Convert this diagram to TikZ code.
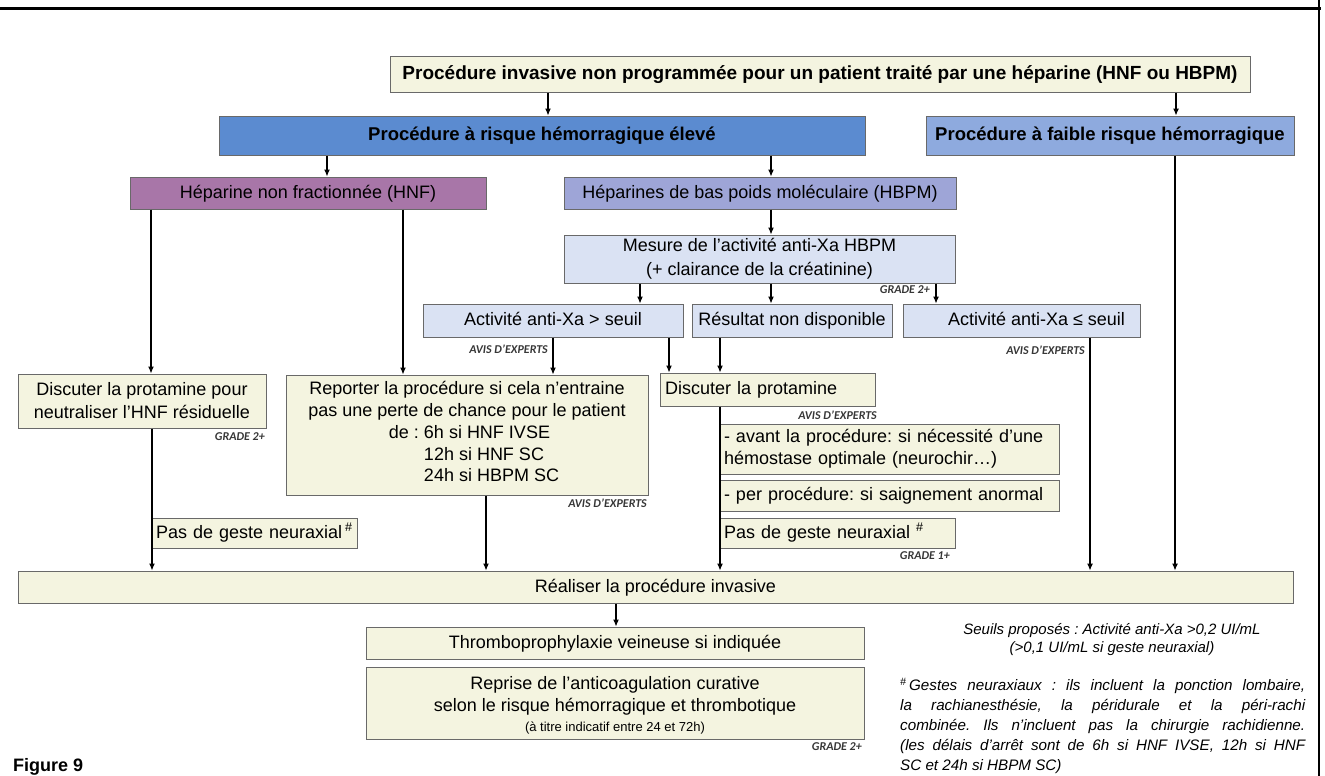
\documentclass[tikz,border=0pt]{standalone}
\usepackage{fontspec}
\setmainfont{Liberation Sans}
\newfontfamily\notefont{Carlito}
\usetikzlibrary{arrows.meta}
\definecolor{beige}{RGB}{244,244,224}
\definecolor{bgray}{RGB}{105,105,105}
\definecolor{blueB}{RGB}{91,139,208}
\definecolor{blueC}{RGB}{142,170,222}
\definecolor{hnfc}{RGB}{168,118,168}
\definecolor{hbpmc}{RGB}{158,165,215}
\definecolor{lblue}{RGB}{218,226,243}
\definecolor{labc}{RGB}{55,55,55}
\frenchspacing
\begin{document}
\begin{tikzpicture}[x=1pt,y=-1pt,
  box/.style={draw=bgray, line width=1pt, inner sep=0pt, align=center,
    font=\fontsize{18}{21.5}\selectfont},
  one/.style={text height=14pt, text depth=3.5pt},
  title/.style={box, one, font=\bfseries\fontsize{18.5}{20}\selectfont},
  lbox/.style={box, align=left, inner xsep=5pt},
  arr/.style={-{Latex[length=7pt,width=6pt]}, line width=1.1pt},
  lab/.style={font=\notefont\bfseries\itshape\fontsize{12}{13}\selectfont, text=labc, inner sep=0pt, anchor=east},
]
\useasboundingbox (0,0) rectangle (1325,776);
% frame
\draw[line width=3pt] (0,9) -- (1321,9);
\draw[line width=2.5pt] (1319,0) -- (1319,776);

% nodes
\node[title, fill=beige, minimum width=860, minimum height=35, font=\bfseries\fontsize{19}{20}\selectfont] (A) at (820,74.5)
  {Procédure invasive non programmée pour un patient traité par une héparine (HNF ou HBPM)};
\node[title, fill=blueB, minimum width=646, minimum height=39] (B) at (542,135.5)
  {Procédure à risque hémorragique élevé};
\node[title, fill=blueC, minimum width=368, minimum height=39] (C) at (1110,135.5)
  {Procédure à faible risque hémorragique};
\node[box, one, fill=hnfc, minimum width=356, minimum height=32] (HNF) at (308,193)
  {Héparine non fractionnée (HNF)};
\node[box, one, fill=hbpmc, minimum width=392, minimum height=32] (HBPM) at (760,193)
  {Héparines de bas poids moléculaire (HBPM)};
\node[box, fill=lblue, minimum width=391, minimum height=48, font=\fontsize{18}{24}\selectfont] (Mes) at (759.5,259)
  {Mesure de l’activité anti-Xa HBPM\\(+ clairance de la créatinine)};
\node[box, one, fill=lblue, minimum width=260, minimum height=33] (Sup) at (553,320.5)
  {Activité anti-Xa > seuil};
\node[box, one, fill=lblue, minimum width=200, minimum height=33] (Res) at (792,320.5)
  {Résultat non disponible};
\node[box, one, fill=lblue, minimum width=237, minimum height=33] (Inf) at (1021.5,320.5)
  {\hspace*{30pt}Activité anti-Xa ≤ seuil};
\node[box, fill=beige, minimum width=248, minimum height=54, font=\fontsize{18}{23}\selectfont] (PrHNF) at (142,401)
  {Discuter la protamine pour\\neutraliser l’HNF résiduelle};
\node[box, fill=beige, minimum width=362, minimum height=120, font=\fontsize{18}{21.8}\selectfont] (Rep) at (467,435)
  {Reporter la procédure si cela n’entraine\\pas une perte de chance pour le patient\\
   \hspace*{14pt}\begin{tabular}[t]{@{}l@{\hspace{5pt}}l@{}}de : & 6h si HNF IVSE\\ & 12h si HNF SC\\ & 24h si HBPM SC\end{tabular}};
\node[lbox, one, fill=beige, text width=205, minimum height=33, inner xsep=5pt] (PrH) at (767.5,389.5)
  {Discuter la protamine};
\node[lbox, fill=beige, text width=331, minimum height=50, inner xsep=4pt, font=\fontsize{18}{22}\selectfont] (Avant) at (889.5,449)
  {- avant la procédure: si nécessité d’une\\hémostase optimale (neurochir…)};
\node[lbox, one, fill=beige, text width=331, minimum height=31, inner xsep=4pt] (Per) at (889.5,495.5)
  {- per procédure: si saignement anormal};
\node[lbox, one, fill=beige, text width=227, minimum height=30, inner xsep=4pt] (Pas2) at (837.5,533)
  {Pas de geste neuraxial \textsuperscript{\#}};
\node[lbox, one, fill=beige, text width=197, minimum height=30, inner xsep=4pt] (Pas1) at (254.5,533)
  {Pas de geste neuraxial\,\textsuperscript{\#}};
\node[box, one, fill=beige, minimum width=1275, minimum height=32] (Real) at (655.5,587)
  {Réaliser la procédure invasive};
\node[box, one, fill=beige, minimum width=498, minimum height=32] (Thr) at (615,643)
  {Thromboprophylaxie veineuse si indiquée};
\node[box, fill=beige, minimum width=498, minimum height=72, font=\fontsize{18}{22}\selectfont] (Rep2) at (615,703)
  {\rule{0pt}{17pt}Reprise de l’anticoagulation curative\\selon le risque hémorragique et thrombotique\\[-2pt]
   {\fontsize{13}{15}\selectfont (à titre indicatif entre 24 et 72h)}};

% connectors
\draw[arr] (A.south -| 548,0) -- (B.north -| 548,0);
\draw[arr] (A.south -| 1176,0) -- (C.north -| 1176,0);
\draw[arr] (B.south -| 327,0) -- (HNF.north -| 327,0);
\draw[arr] (B.south -| 771,0) -- (HBPM.north -| 771,0);
\draw[arr] (HBPM.south -| 771,0) -- (Mes.north -| 771,0);
\draw[arr] (Mes.south -| 640,0) -- (Sup.north -| 640,0);
\draw[arr] (Mes.south -| 771,0) -- (Res.north -| 771,0);
\draw[arr] (Mes.south -| 936,0) -- (Inf.north -| 936,0);
\draw[arr] (HNF.south -| 151,0) -- (PrHNF.north -| 151,0);
\draw[arr] (HNF.south -| 403,0) -- (Rep.north -| 403,0);
\draw[arr] (Sup.south -| 553,0) -- (Rep.north -| 553,0);
\draw[arr] (Sup.south -| 669,0) -- (PrH.north -| 669,0);
\draw[arr] (Res.south -| 720,0) -- (PrH.north -| 720,0);
\draw[arr] (Inf.south -| 1090,0) -- (Real.north -| 1090,0);
\draw[arr] (C.south -| 1175,0) -- (Real.north -| 1175,0);
\draw[arr] (PrHNF.south -| 152,0) -- (Real.north -| 152,0);
\draw[arr] (Rep.south -| 486,0) -- (Real.north -| 486,0);
\draw[arr] (PrH.south -| 720,0) -- (Real.north -| 720,0);
\draw[arr] (Real.south -| 616,0) -- (Thr.north -| 616,0);

% grade labels
\node[lab] (g1) at (930,290) {GRADE 2+};
\node[lab] (e1) at (548,349) {AVIS D’EXPERTS};
\node[lab] (e2) at (1085,350) {AVIS D’EXPERTS};
\node[lab] (g2) at (265,437) {GRADE 2+};
\node[lab] (e3) at (647,503) {AVIS D’EXPERTS};
\node[lab] (e4) at (877,415) {AVIS D’EXPERTS};
\node[lab] (g3) at (950,556) {GRADE 1+};
\node[lab] (g4) at (862,747) {GRADE 2+};

% notes
\node[inner sep=0pt, align=center, font=\itshape\fontsize{15}{17.5}\selectfont] (seuils) at (1112,639.5)
  {Seuils proposés : Activité anti-Xa >0,2 UI/mL\\(>0,1 UI/mL si geste neuraxial)};
\node[inner sep=0pt, anchor=north west, text width=405, align=justify,
  font=\itshape\fontsize{15.2}{20}\selectfont] (foot) at (900,678)
  {\hyphenpenalty=10000\textsuperscript{\#}\,Gestes neuraxiaux : ils incluent la ponction lombaire,\linebreak
   la rachianesthésie, la péridurale et la péri-rachi\linebreak
   combinée. Ils n’incluent pas la chirurgie rachidienne.\linebreak
   (les délais d’arrêt sont de 6h si HNF IVSE, 12h si HNF\linebreak
   SC et 24h si HBPM SC)};
\node[inner sep=0pt, anchor=base west, font=\bfseries\fontsize{18}{20}\selectfont] (fig) at (13,771) {Figure 9};
\end{tikzpicture}
\end{document}
